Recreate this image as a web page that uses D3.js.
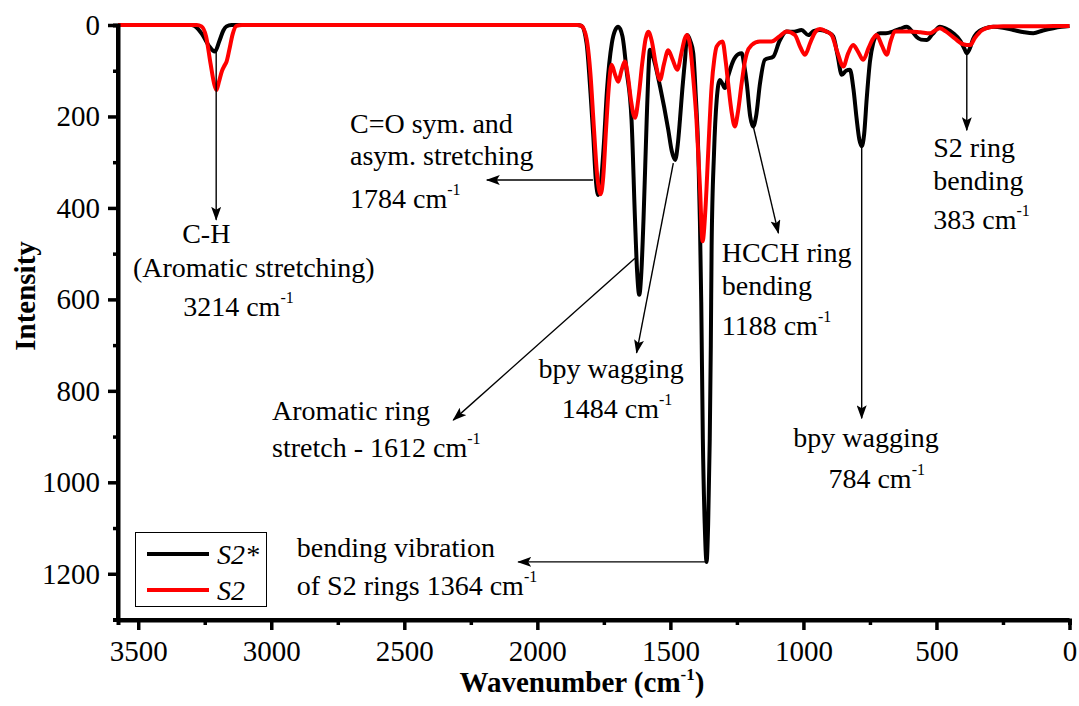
<!DOCTYPE html>
<html><head><meta charset="utf-8">
<script src="https://cdn.jsdelivr.net/npm/d3@7"></script>
<style>
body{margin:0;background:#fff;}
</style></head>
<body><svg id="chart" width="1079" height="706"></svg>
<script>
// ---- data ----
const seriesNames = ["S2*", "S2"];
const seriesColors = ["#000000", "#ff0000"];
// S2* (black): [wavenumber, intensity]
const s2StarData = [
 [3576,0],[3300,0],[3288,2],[3260,20],[3235,45],[3212,58],[3195,35],[3180,12],[3168,3],[3150,0],
 [1850,0],[1834,2],[1815,40],[1800,150],[1790,240],[1780,340],[1771,372],[1762,350],[1750,260],[1738,140],[1720,40],[1708,12],[1696,4],
 [1680,25],[1665,98],[1646,207],[1633,425],[1625,540],[1617,590],[1609,540],[1601,425],[1589,207],[1583,110],[1577,54],
 [1560,80],[1539,134],[1508,229],[1495,275],[1482,295],[1472,260],[1464,207],[1455,140],[1445,76],[1437,22],
 [1425,35],[1414,62],[1405,150],[1395,280],[1389,430],[1384,606],[1378,905],[1371,1090],[1364,1174],[1358,1090],[1352,905],[1348,700],[1345,483],[1336,280],[1326,164],[1314,120],
 [1305,128],[1295,138],[1282,110],[1265,80],[1245,64],[1232,62],[1222,90],[1213,127],[1200,200],[1189,222],[1178,200],[1163,127],[1145,76],
 [1113,69],[1090,35],[1063,14],[1035,15],[1007,11],[982,22],[960,13],[938,11],[910,15],[888,25],[872,65],[856,109],[840,100],[825,98],
 [812,140],[800,205],[790,250],[781,265],[772,240],[762,160],[750,80],[738,40],[725,22],[712,18],[690,18],[662,14],[635,8],[612,4],
 [590,15],[575,26],[558,32],[537,33],[515,20],[487,4],[465,8],[437,18],[410,35],[395,52],[386,62],[375,52],[362,30],[349,18],[320,8],[286,4],
 [250,6],[211,11],[170,16],[136,18],[100,12],[61,7],[30,4],[0,2]
];
// S2 (red)
const s2Data = [
 [3576,0],[3280,0],[3262,3],[3245,25],[3228,85],[3214,130],[3206,142],[3197,125],[3185,100],[3175,88],[3168,80],[3158,55],[3145,20],[3131,2],[3110,0],
 [1850,0],[1834,2],[1815,30],[1800,110],[1788,220],[1775,330],[1762,370],[1752,330],[1742,230],[1732,140],[1721,87],[1708,108],[1696,124],[1684,100],[1671,80],
 [1660,110],[1648,165],[1633,203],[1620,160],[1605,80],[1593,30],[1583,15],[1570,35],[1555,85],[1539,120],[1524,85],[1508,55],[1492,75],[1474,98],[1458,60],[1446,30],[1437,22],
 [1426,45],[1415,110],[1402,207],[1389,353],[1379,473],[1368,400],[1358,280],[1345,134],[1335,75],[1326,47],[1304,36],
 [1292,80],[1283,127],[1270,190],[1258,222],[1246,190],[1232,127],[1220,80],[1213,62],[1195,44],[1164,36],[1120,36],[1090,25],[1063,14],
 [1032,22],[1012,48],[994,65],[975,40],[955,15],[938,9],[915,14],[894,22],[872,60],[850,91],[832,62],[813,44],[795,58],[775,76],[755,50],[738,30],[725,22],
 [705,45],[687,65],[672,35],[656,14],[630,14],[600,14],[560,16],[524,18],[505,12],[487,7],[465,14],[430,30],[400,42],[374,44],[355,28],[330,12],[300,5],[287,4],
 [250,3],[150,3],[60,2],[0,2]
];
const xTicks = [3500,3000,2500,2000,1500,1000,500,0];
const xMinorTicks = [3250,2750,2250,1750,1250,750,250];
const yTicks = [0,200,400,600,800,1000,1200];
const yMinorTicks = [100,300,500,700,900,1100];
// annotation text lines ("^" marks a superscript)
const annLines = [
 ["C-H", "(Aromatic stretching)", "3214 cm^-1"],
 ["C=O sym. and", "asym. stretching", "1784 cm^-1"],
 ["Aromatic ring", "stretch - 1612 cm^-1"],
 ["bpy wagging", "1484 cm^-1"],
 ["bending vibration", "of S2 rings 1364 cm^-1"],
 ["HCCH ring", "bending", "1188 cm^-1"],
 ["bpy wagging", "784 cm^-1"],
 ["S2 ring", "bending", "383 cm^-1"]
];
// anchor (wavenumber,intensity) of each text line's left/baseline
const annAnchors = [
 [[3335,477],[3520,551],[3331,636]],
 [[2704,237],[2704,306],[2704,401]],
 [[2997,864],[2997,944]],
 [[1996,772],[1908,859]],
 [[2904,1163],[2904,1246]],
 [[1307,518],[1307,590],[1307,678]],
 [[1038,922],[906,1013]],
 [[512,288],[512,361],[512,445]]
];
// arrows: from peak [wn,int] to tip [wn,int]
const annArrows = [
 [[3207,58],[3207,426]],
 [[1791,339],[2190,339]],
 [[1633,510],[2316,864]],
 [[1489,302],[1627,717]],
 [[1366,1174],[2072,1174]],
 [[1188,223],[1094,455]],
 [[781,265],[781,860]],
 [[386,62],[386,230]]
];

// ---- chart ----
const FONT = "Liberation Serif";
const svg = d3.select("#chart");
const x = d3.scaleLinear().domain([3576,0]).range([118,1069.5]);
const y = d3.scaleLinear().domain([0,1300]).range([25,619.5]);

const defs = svg.append("defs");
defs.append("marker").attr("id","arr").attr("viewBox","0 0 14 10")
  .attr("refX",13).attr("refY",5).attr("markerWidth",14).attr("markerHeight",10)
  .attr("markerUnits","userSpaceOnUse").attr("orient","auto")
  .append("path").attr("d","M0,0 L14,5 L0,10 L3,5 Z").attr("fill","#000");

const line = d3.line().x(d=>x(d[0])).y(d=>y(d[1])).curve(d3.curveMonotoneX);
const sorted = a => a.slice().sort((p,q)=>p[0]-q[0]);
[s2StarData, s2Data].forEach((data,i)=>{
  svg.append("path").datum(sorted(data)).attr("d",line)
    .attr("fill","none").attr("stroke",seriesColors[i]).attr("stroke-width",4).attr("stroke-linejoin","round");
});

// axes
const gx = svg.append("g").attr("transform","translate(0,620)");
gx.call(d3.axisBottom(x).tickValues(xTicks).tickSize(10).tickPadding(8).tickFormat(d3.format("d")));
gx.append("g").call(d3.axisBottom(x).tickValues(xMinorTicks).tickSize(5).tickFormat(""));
const gy = svg.append("g").attr("transform","translate(118,0)");
gy.call(d3.axisLeft(y).tickValues(yTicks).tickSize(10).tickPadding(8).tickFormat(d3.format("d")));
gy.append("g").call(d3.axisLeft(y).tickValues(yMinorTicks).tickSize(5).tickFormat(""));
gx.attr("font-family",FONT); gy.attr("font-family",FONT);
svg.selectAll(".domain").attr("stroke","#000").attr("stroke-width",4);
svg.selectAll(".tick line").attr("stroke","#000").attr("stroke-width",3.5);
svg.selectAll(".tick text").style("font-family",FONT).attr("font-size",29).attr("fill","#000");
gx.selectAll(".tick text").attr("dy","0.78em");
gx.select(".domain").attr("d",`M${x.range()[0]-2},0H${x.range()[1]}`);
gy.select(".domain").attr("d",`M0,${y.range()[0]}V${622}`);

// axis labels
const xl = svg.append("text").attr("x",582).attr("y",692).attr("text-anchor","middle")
  .style("font-family",FONT).attr("font-size",29).attr("font-weight","bold");
xl.append("tspan").text("Wavenumber (cm");
xl.append("tspan").text("-1").attr("font-size",17).attr("dy",-12);
xl.append("tspan").text(")").attr("dy",12);
svg.append("text").attr("transform","translate(35,296) rotate(-90)").attr("text-anchor","middle")
  .style("font-family",FONT).attr("font-size",29).attr("font-weight","bold").text("Intensity");

// annotations
annArrows.forEach(a=>{
  svg.append("line").attr("x1",x(a[0][0])).attr("y1",y(a[0][1])).attr("x2",x(a[1][0])).attr("y2",y(a[1][1]))
    .attr("stroke","#000").attr("stroke-width",1.4).attr("marker-end","url(#arr)");
});
annLines.forEach((lines,i)=>{
  lines.forEach((t,j)=>{
    const p = annAnchors[i][j];
    const tx = svg.append("text").attr("x",x(p[0])).attr("y",y(p[1]))
      .style("font-family",FONT).attr("font-size",28);
    if (t.includes("^")) {
      const parts = t.split("^");
      tx.append("tspan").text(parts[0]);
      tx.append("tspan").text(parts[1]).attr("font-size",16).attr("dy",-13);
    } else tx.text(t);
  });
});

// legend
const lg = svg.append("g");
lg.append("rect").attr("x",135.5).attr("y",532.5).attr("width",131).attr("height",74)
  .attr("fill","#fff").attr("stroke","#000").attr("stroke-width",1);
seriesNames.forEach((n,i)=>{
  const yy = 554 + i*36;
  lg.append("line").attr("x1",147).attr("x2",209).attr("y1",yy).attr("y2",yy)
    .attr("stroke",seriesColors[i]).attr("stroke-width",4);
  lg.append("text").attr("x",217).attr("y",yy+10).style("font-family",FONT)
    .attr("font-size",28).attr("font-style","italic").text(n);
});
</script></body></html>
